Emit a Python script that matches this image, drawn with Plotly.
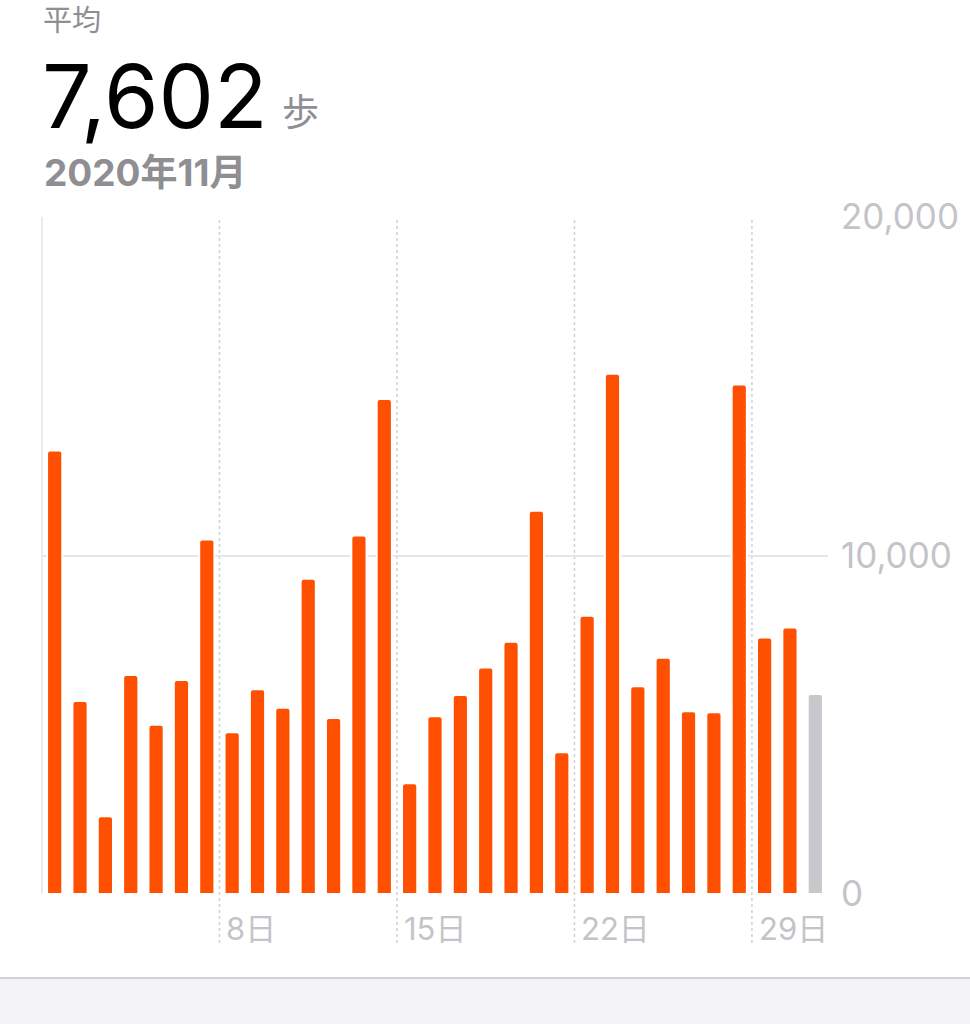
import plotly.graph_objects as go

# ---- data ----
days = [1, 2, 3, 4, 5, 6, 7, 8, 9, 10, 11, 12, 13, 14, 15, 16,
        17, 18, 19, 20, 21, 22, 23, 24, 25, 26, 27, 28, 29, 30, 31]
steps = [13100, 5700, 2300, 6470, 5000, 6320, 10470, 4780, 6050, 5500,
         9310, 5200, 10590, 14620, 3270, 5250, 5880, 6690, 7450, 11320,
         4190, 8220, 15370, 6140, 6980, 5400, 5370, 15050, 7580, 7870,
         5910]
tick_days = [8, 15, 22, 29]
tick_text = ["8日", "15日", "22日", "29日"]
y_ticks = [0, 10000, 20000]
y_tick_text = ["0", "10,000", "20,000"]
avg_label = "平均"
avg_value = "7,602"
avg_unit = "歩"
period_label = "2020年11月"

# ---- styling ----
W, H = 970, 1024
L, R, T, B = 42, 828, 217, 894
ORANGE = "#FF4F00"
GREYBAR = "#C7C7CC"
GRID = "#E5E5EA"
LABEL = "#C4C4C8"
HEAD = "#8E8E93"
FONT = "Inter, 'Noto Sans CJK JP', sans-serif"

colors = [ORANGE] * (len(steps) - 1) + [GREYBAR]

def py(p):
    return (B - p) / (B - T)

def px(p):
    return (p - L) / (R - L)

fig = go.Figure()
fig.add_trace(go.Bar(
    x=days, y=steps,
    marker=dict(color=colors, line=dict(color="white", width=2), cornerradius=3),
    width=0.6,
    hoverinfo="skip",
))

shapes = []
# left border
shapes.append(dict(type="line", xref="paper", yref="paper", x0=0, x1=0, y0=0, y1=1,
                   line=dict(color=GRID, width=1.5), layer="below"))
# dashed week separators
for d in tick_days:
    shapes.append(dict(type="line", xref="x", yref="paper", x0=d - 0.5, x1=d - 0.5,
                       y0=py(943), y1=1, line=dict(color="#D1D1D6", width=1.5, dash="3px,3px"),
                       layer="below"))
# bottom panel
shapes.append(dict(type="rect", xref="paper", yref="paper", x0=px(0), x1=px(W),
                   y0=py(H), y1=py(978), fillcolor="#F2F2F7",
                   line=dict(width=0), layer="below"))
shapes.append(dict(type="line", xref="paper", yref="paper", x0=px(0), x1=px(W),
                   y0=py(978), y1=py(978), line=dict(color="#D1D1D6", width=2)))

annotations = []
for d, t in zip(tick_days, tick_text):
    annotations.append(dict(x=d - 0.5, xref="x", y=py(928), yref="paper", text=t,
                            showarrow=False, xanchor="left", yanchor="middle", xshift=5,
                            font=dict(family=FONT, size=31, color=LABEL)))
annotations += [
    dict(x=px(41), y=py(21), xref="paper", yref="paper", text=avg_label, showarrow=False,
         xanchor="left", yanchor="middle", font=dict(family=FONT, size=29, color=HEAD)),
    dict(x=px(40), y=py(96), xref="paper", yref="paper", text=avg_value, showarrow=False,
         xanchor="left", yanchor="middle", font=dict(family=FONT, size=88, color="#000000")),
    dict(x=px(280), y=py(112), xref="paper", yref="paper", text=avg_unit, showarrow=False,
         xanchor="left", yanchor="middle", font=dict(family=FONT, size=37, color=HEAD)),
    dict(x=px(42), y=py(173), xref="paper", yref="paper", text="<b>" + period_label + "</b>",
         showarrow=False, xanchor="left", yanchor="middle",
         font=dict(family=FONT, size=37, color=HEAD)),
]

fig.update_layout(
    width=W, height=H,
    margin=dict(l=L, r=W - R, t=T, b=H - B, pad=0),
    paper_bgcolor="white", plot_bgcolor="white",
    showlegend=False,
    bargap=0.4,
    shapes=shapes,
    annotations=annotations,
    xaxis=dict(range=[0.5, len(days) + 0.5], showgrid=False, zeroline=False,
               showticklabels=False, ticks="", fixedrange=True),
    yaxis=dict(range=[0, 20000], side="right", tickvals=y_ticks, ticktext=y_tick_text,
               showgrid=True, gridcolor=GRID, gridwidth=1.5, zeroline=False,
               ticks="", ticklabelstandoff=12,
               tickfont=dict(family=FONT, size=35, color=LABEL), fixedrange=True),
)

fig.write_html("out.html", config={"displayModeBar": False},
               post_script="document.body.style.margin='0';document.body.style.overflow='hidden';")
